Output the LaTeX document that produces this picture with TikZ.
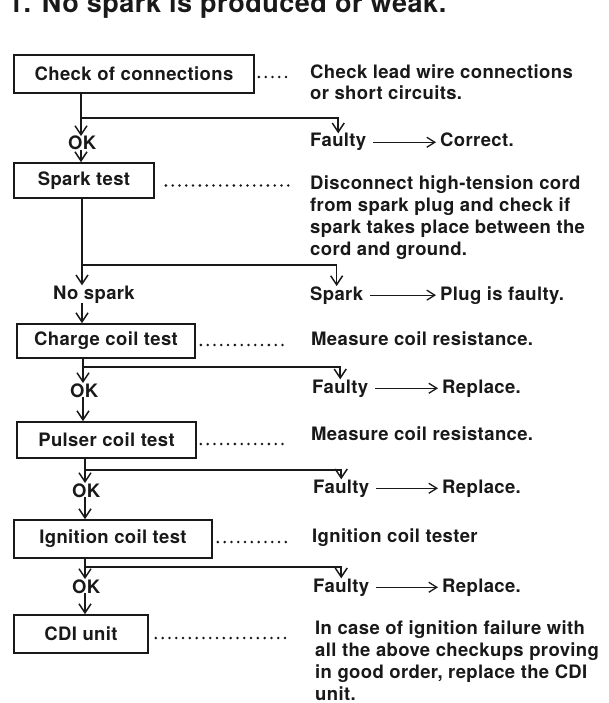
\documentclass[tikz,border=0pt]{standalone}
\usepackage{fontspec}
\setmainfont{TeX Gyre Heros}[LetterSpace=2]
\usepackage{tikz}
\usetikzlibrary{arrows.meta, positioning, calc}
\definecolor{tinta}{RGB}{25,25,25}

\begin{document}
\begin{tikzpicture}[x=1pt, y=-1pt,
    caixa/.style={draw=tinta, line width=1.7pt, inner xsep=0pt, font=\fontsize{18.5}{22}\selectfont\bfseries, text=tinta},
    texto/.style={inner sep=0pt, anchor=base west, align=left, font=\fontsize{18.5}{21.8}\selectfont\bfseries, text=tinta},
    seta/.style={-{Straight Barb[length=9pt, width=12pt]}, line width=1.5pt, tinta},
    setaB/.style={-{Straight Barb[length=8pt, width=10pt]}, line width=1.3pt, tinta, shorten <=7pt, shorten >=4pt},
    pontos/.style={line width=2.8pt, line cap=round, dash pattern=on 0pt off 6.8pt, tinta}
  ]
    \useasboundingbox (0,0) rectangle (608,703);

    \node[texto, font=\fontsize{27}{30}\selectfont\bfseries] (titulo) at (8,13) {1. No spark is produced or weak.};

    \node[caixa, minimum width=240pt, minimum height=38pt] (c1) at (134,74) {Check of connections};
    \node[caixa, minimum width=140pt, minimum height=35pt] (c2) at (84,180.5) {Spark test};
    \node[caixa, minimum width=178pt, minimum height=34pt] (c3) at (106,341) {Charge coil test};
    \node[caixa, minimum width=179pt, minimum height=36pt] (c4) at (106.5,440) {Pulser coil test};
    \node[caixa, minimum width=198pt, minimum height=38pt] (c5) at (113,539) {Ignition coil test};
    \node[caixa, minimum width=134pt, minimum height=38pt] (c6) at (81,634) {CDI unit};

    \node[texto] (d1) at (310,100) {Check lead wire connections\\or short circuits.};
    \node[texto] (d2) at (310,255) {Disconnect high-tension cord\\from spark plug and check if\\spark takes place between the\\cord and ground.};
    \node[texto] (d3) at (311,345) {Measure coil resistance.};
    \node[texto] (d4) at (311,440) {Measure coil resistance.};
    \node[texto] (d5) at (312,542) {Ignition coil tester};
    \node[texto] (d6) at (315,700) {In case of ignition failure with\\all the above checkups proving\\in good order, replace the CDI\\unit.};

    \node[texto] (ok1) at (68,150) {OK};
    \node[texto] (nsp) at (53,299) {No spark};
    \node[texto] (ok2) at (70,397) {OK};
    \node[texto] (ok3) at (72,497) {OK};
    \node[texto] (ok4) at (72,593) {OK};

    \node[texto] (f1) at (310,147) {Faulty};
    \node[texto] (r1) at (440,147) {Correct.};
    \node[texto] (f2) at (310,300) {Spark};
    \node[texto] (r2) at (440,300) {Plug is faulty.};
    \node[texto] (f3) at (312,393) {Faulty};
    \node[texto] (r3) at (442,393) {Replace.};
    \node[texto] (f4) at (313,493) {Faulty};
    \node[texto] (r4) at (442,493) {Replace.};
    \node[texto] (f5) at (313,592) {Faulty};
    \node[texto] (r5) at (442,592) {Replace.};

    \coordinate (j1) at (81,118);
    \coordinate (j2) at (82,265);
    \coordinate (j3) at (83,367);
    \coordinate (j4) at (85,470);
    \coordinate (j5) at (85,567);

    \draw[seta] (c1.south -| j1) -- (j1) -- (ok1.north -| j1);
    \draw[seta] (ok1.south -| j1) -- (c2.north -| j1);
    \draw[seta] (c2.south -| j2) -- (j2) -- (nsp.north -| j2);
    \draw[seta] (nsp.south -| j2) -- (c3.north -| j2);
    \draw[seta] (c3.south -| j3) -- (j3) -- (ok2.north -| j3);
    \draw[seta] (ok2.south -| j3) -- (c4.north -| j3);
    \draw[seta] (c4.south -| j4) -- (j4) -- (ok3.north -| j4);
    \draw[seta] (ok3.south -| j4) -- (c5.north -| j4);
    \draw[seta] (c5.south -| j5) -- (j5) -- (ok4.north -| j5);
    \draw[seta] (ok4.south -| j5) -- (c6.north -| j5);

    \draw[seta] (j1) -| (f1.north);
    \draw[seta] (j2) -| (f2.north);
    \draw[seta] (j3) -| (f3.north);
    \draw[seta] (j4) -| (f4.north);
    \draw[seta] (j5) -| (f5.north);

    \draw[setaB] (f1.east) -- (f1.east -| r1.west);
    \draw[setaB] (f2.east) -- (f2.east -| r2.west);
    \draw[setaB] (f3.east) -- (f3.east -| r3.west);
    \draw[setaB] (f4.east) -- (f4.east -| r4.west);
    \draw[setaB] (f5.east) -- (f5.east -| r5.west);

    \draw[pontos] ([shift={(4,3)}]c1.east) -- ([shift={(-22,3)}]c1.east -| d1.west);
    \draw[pontos] ([shift={(11,5)}]c2.east) -- ([shift={(-20,5)}]c2.east -| d2.west);
    \draw[pontos] ([shift={(5,4)}]c3.east) -- ([shift={(-22,4)}]c3.east -| d3.west);
    \draw[pontos] ([shift={(4,4)}]c4.east) -- ([shift={(-22,4)}]c4.east -| d4.west);
    \draw[pontos] ([shift={(5,3)}]c5.east) -- ([shift={(-22,3)}]c5.east -| d5.west);
    \draw[pontos] ([shift={(7,4)}]c6.east) -- ([shift={(-25,4)}]c6.east -| d6.west);
  \end{tikzpicture}
\end{document}
